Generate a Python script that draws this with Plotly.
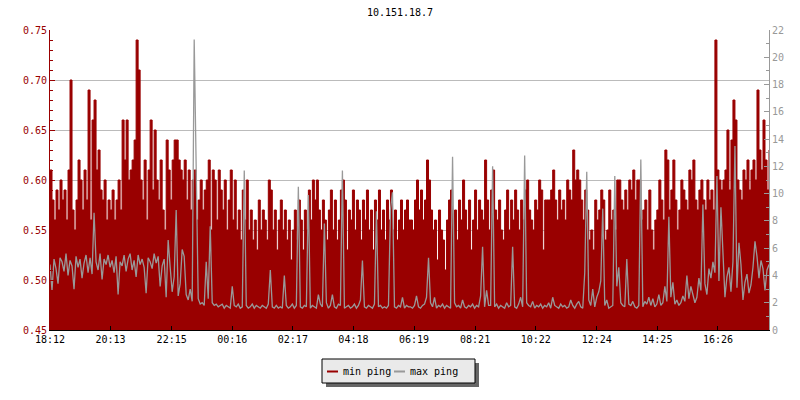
import plotly.graph_objects as go

title_text = "10.151.18.7"
tick_labels = ["18:12", "20:13", "22:15", "00:16", "02:17", "04:18",
               "06:19", "08:21", "10:22", "12:24", "14:25", "16:26"]
series_names = ["min ping", "max ping"]
sample_step_min = 4

min_ping = [
    0.61,0.58,0.56,0.59,0.57,0.60,0.58,0.59,0.56,0.61,
    0.70,0.57,0.55,0.58,0.62,0.60,0.57,0.61,0.58,0.69,
    0.56,0.66,0.68,0.61,0.63,0.59,0.58,0.60,0.56,0.58,
    0.57,0.59,0.56,0.58,0.60,0.57,0.66,0.62,0.66,0.60,
    0.61,0.62,0.64,0.74,0.71,0.60,0.58,0.62,0.56,0.61,
    0.66,0.59,0.65,0.60,0.58,0.62,0.57,0.55,0.64,0.61,
    0.58,0.62,0.64,0.64,0.62,0.61,0.60,0.62,0.58,0.61,
    0.57,0.60,0.61,0.56,0.58,0.60,0.57,0.59,0.60,0.62,
    0.55,0.61,0.60,0.56,0.61,0.59,0.57,0.60,0.55,0.58,
    0.61,0.56,0.60,0.55,0.57,0.54,0.59,0.56,0.60,0.55,
    0.57,0.54,0.56,0.53,0.58,0.55,0.57,0.56,0.54,0.60,
    0.59,0.55,0.57,0.53,0.56,0.58,0.55,0.57,0.54,0.56,
    0.52,0.55,0.57,0.54,0.58,0.56,0.53,0.57,0.55,0.59,
    0.56,0.60,0.58,0.60,0.57,0.55,0.58,0.56,0.54,0.57,
    0.59,0.55,0.58,0.54,0.56,0.59,0.60,0.58,0.53,0.57,
    0.56,0.59,0.55,0.58,0.57,0.54,0.58,0.56,0.59,0.55,
    0.57,0.53,0.58,0.56,0.59,0.55,0.57,0.54,0.58,0.56,
    0.59,0.55,0.57,0.54,0.56,0.58,0.55,0.57,0.58,0.56,
    0.56,0.55,0.58,0.60,0.57,0.59,0.56,0.58,0.62,0.60,
    0.57,0.55,0.56,0.52,0.57,0.55,0.54,0.51,0.56,0.58,
    0.59,0.55,0.57,0.54,0.58,0.56,0.60,0.57,0.55,0.58,
    0.53,0.56,0.59,0.55,0.58,0.57,0.56,0.62,0.58,0.55,
    0.59,0.61,0.57,0.56,0.58,0.55,0.54,0.57,0.59,0.55,
    0.58,0.56,0.59,0.57,0.55,0.58,0.56,0.59,0.60,0.57,
    0.56,0.55,0.58,0.57,0.60,0.59,0.53,0.58,0.58,0.58,
    0.59,0.61,0.58,0.56,0.59,0.57,0.58,0.56,0.60,0.59,
    0.58,0.63,0.60,0.61,0.60,0.58,0.56,0.59,0.57,0.54,
    0.55,0.53,0.58,0.56,0.57,0.59,0.58,0.54,0.55,0.59,
    0.56,0.57,0.55,0.60,0.60,0.58,0.57,0.59,0.57,0.60,
    0.59,0.61,0.58,0.60,0.60,0.56,0.57,0.58,0.55,0.59,
    0.55,0.53,0.56,0.57,0.60,0.58,0.56,0.63,0.62,0.57,
    0.59,0.62,0.58,0.55,0.57,0.60,0.59,0.58,0.57,0.61,
    0.60,0.62,0.58,0.57,0.59,0.60,0.58,0.57,0.60,0.58,
    0.59,0.57,0.74,0.61,0.60,0.59,0.60,0.61,0.65,0.59,
    0.64,0.68,0.66,0.60,0.59,0.58,0.61,0.60,0.62,0.59,
    0.61,0.62,0.60,0.69,0.63,0.61,0.66,0.62,0.59,0.63,
]

max_ping = [
    4.8,2.9,5.2,4.5,3.4,5.3,5.0,4.3,5.6,4.0,
    5.1,4.7,3.0,5.4,4.6,5.2,3.8,4.9,5.5,4.2,
    5.3,4.1,8.6,5.0,4.4,5.6,3.7,5.2,4.8,5.5,
    4.6,5.1,4.2,5.4,2.6,5.0,4.7,5.5,4.3,5.2,
    5.6,4.4,5.1,3.9,5.5,4.8,5.2,4.6,2.7,5.3,
    5.0,4.5,5.6,4.9,5.4,3.2,4.7,5.2,2.4,6.6,
    4.6,2.8,3.9,8.8,2.5,3.4,5.9,5.4,2.6,2.2,
    3.0,2.1,21.3,11.5,2.3,1.9,2.0,1.8,5.0,2.3,
    7.6,2.0,1.8,1.9,1.7,1.8,1.9,1.6,1.8,1.7,
    1.6,3.2,1.8,1.7,1.9,1.6,1.7,11.7,1.8,1.6,
    1.7,1.9,1.6,1.8,1.7,1.6,1.8,1.7,1.6,1.9,
    4.4,1.7,1.6,1.8,1.6,1.7,1.6,4.0,1.8,1.6,
    1.7,1.9,1.6,1.8,10.5,1.7,1.6,1.8,1.7,9.9,
    1.6,1.8,1.7,1.6,2.6,1.9,1.7,7.8,2.0,1.6,
    1.8,2.6,1.7,1.6,1.9,1.8,11.7,1.6,1.7,1.8,
    1.6,1.7,1.9,1.6,1.8,2.2,5.1,1.7,1.6,1.8,
    1.7,1.6,1.9,8.7,1.7,1.8,1.6,1.7,1.6,1.8,
    8.8,10.1,1.7,1.6,1.8,1.7,2.4,1.6,1.8,1.7,
    1.7,1.6,1.8,2.5,1.7,1.6,1.8,1.9,2.4,5.3,
    2.0,1.7,2.4,1.6,1.8,1.7,1.9,1.6,1.8,1.7,
    1.6,12.7,2.0,1.7,1.8,1.6,2.2,1.7,1.6,1.8,
    1.7,1.9,1.6,1.8,1.7,2.5,6.1,1.7,2.9,1.8,
    1.8,12.0,1.7,1.9,1.6,1.8,1.7,1.6,2.0,1.7,
    1.8,6.1,1.7,1.6,1.9,2.4,1.7,12.8,2.0,1.8,
    1.7,2.1,1.6,1.8,1.7,1.9,1.6,1.8,1.7,2.0,
    1.6,2.4,1.8,1.7,1.6,1.9,1.7,1.8,1.6,1.7,
    2.2,1.8,1.6,1.9,2.1,1.7,1.6,4.2,11.6,2.2,
    1.8,3.0,1.7,2.4,2.8,3.6,8.9,1.8,2.2,1.6,
    1.7,1.8,11.3,3.2,4.6,2.0,1.8,1.7,5.2,1.9,
    1.8,2.1,1.7,1.6,1.8,12.5,1.7,2.1,1.9,2.4,
    1.8,2.3,1.7,1.9,2.6,1.8,2.0,3.2,2.1,8.3,
    2.4,3.5,1.9,2.2,1.8,2.0,2.5,2.1,4.0,2.3,
    3.2,2.6,2.0,2.4,3.8,2.9,9.2,3.4,2.6,4.5,
    3.8,5.0,4.2,11.3,3.6,9.0,5.2,2.4,3.9,4.6,
    2.8,5.0,13.5,3.1,6.4,4.8,2.2,3.5,4.1,2.7,
    3.3,4.6,6.5,5.4,3.8,5.1,4.5,2.9,4.4,4.8,
]

RED = "#990000"
GREY = "#999999"
FONT = "DejaVu Sans Mono"

W, H = 800, 400
ML, MR, MT, MB = 50, 31, 30, 70
PW, PH = W - ML - MR, H - MT - MB

def px(x):
    return (x - ML) / PW

def py(y):
    return (H - MB - y) / PH

times = [i * sample_step_min for i in range(len(min_ping))]

def label_to_minutes(labels):
    out = []
    start = None
    for lab in labels:
        h, m = map(int, lab.split(":"))
        t = h * 60 + m
        if start is None:
            start = t
        d = t - start
        if d < 0:
            d += 1440
        out.append(d)
    return out

tick_vals = label_to_minutes(tick_labels)

fig = go.Figure()
fig.add_trace(go.Scatter(
    x=times, y=min_ping, name=series_names[0], mode="lines",
    line=dict(color=RED, width=1, shape="hv"),
    fill="tozeroy", fillcolor=RED, showlegend=False,
))
fig.add_trace(go.Scatter(
    x=times, y=max_ping, name=series_names[1], mode="lines", yaxis="y2",
    line=dict(color=GREY, width=1.3, shape="linear"), showlegend=False,
))

# legend box (drawn by hand to match the reference style)
shapes = [
    dict(type="rect", xref="paper", yref="paper", layer="above",
         x0=px(326), x1=px(479), y0=py(387), y1=py(363),
         fillcolor="#666666", line=dict(width=0)),
    dict(type="rect", xref="paper", yref="paper", layer="above",
         x0=px(322), x1=px(475), y0=py(383), y1=py(359),
         fillcolor="#eaeaea", line=dict(color="black", width=1)),
    dict(type="line", xref="paper", yref="paper", layer="above",
         x0=px(327), x1=px(338), y0=py(371.5), y1=py(371.5),
         line=dict(color=RED, width=2)),
    dict(type="line", xref="paper", yref="paper", layer="above",
         x0=px(394), x1=px(405), y0=py(371.5), y1=py(371.5),
         line=dict(color=GREY, width=2)),
]
annotations = [
    dict(text=series_names[0], xref="paper", yref="paper", x=px(341), y=py(371),
         xanchor="left", yanchor="middle", showarrow=False,
         font=dict(family=FONT, size=10, color="black")),
    dict(text=series_names[1], xref="paper", yref="paper", x=px(408), y=py(371),
         xanchor="left", yanchor="middle", showarrow=False,
         font=dict(family=FONT, size=10, color="black")),
]

fig.update_layout(
    width=W, height=H,
    margin=dict(l=ML, r=MR, t=MT, b=MB, autoexpand=False),
    paper_bgcolor="white", plot_bgcolor="white",
    font=dict(family=FONT, size=10, color="black"),
    title=dict(text=title_text, x=0.5, xanchor="center", y=1 - 12 / H, yanchor="middle",
               yref="container", font=dict(family=FONT, size=10, color="black")),
    showlegend=False,
    shapes=shapes,
    annotations=annotations,
    xaxis=dict(range=[0, 1436], tickmode="array", tickvals=tick_vals, ticktext=tick_labels,
               showgrid=False, zeroline=False, showline=True, linecolor="black", linewidth=1,
               ticks="inside", ticklen=4, tickcolor="black",
               tickfont=dict(family=FONT, size=10, color="black")),
    yaxis=dict(range=[0.45, 0.75], dtick=0.05, tickformat=".2f",
               showgrid=True, gridcolor="#bbbbbb", gridwidth=1, zeroline=False,
               showline=True, linecolor=RED, linewidth=1,
               ticks="inside", ticklen=5, tickcolor=RED,
               minor=dict(dtick=0.01, ticks="inside", ticklen=3, tickcolor=RED, showgrid=False),
               tickfont=dict(family=FONT, size=10, color=RED)),
    yaxis2=dict(range=[0, 22], dtick=2, overlaying="y", side="right",
                showgrid=False, zeroline=False,
                showline=True, linecolor=GREY, linewidth=1,
                ticks="inside", ticklen=5, tickcolor=GREY,
                minor=dict(dtick=1, ticks="inside", ticklen=3, tickcolor=GREY, showgrid=False),
                tickfont=dict(family=FONT, size=10, color=GREY)),
)

fig.write_html("out.html", config={"displayModeBar": False},
               post_script="document.body.style.margin='0px';")
